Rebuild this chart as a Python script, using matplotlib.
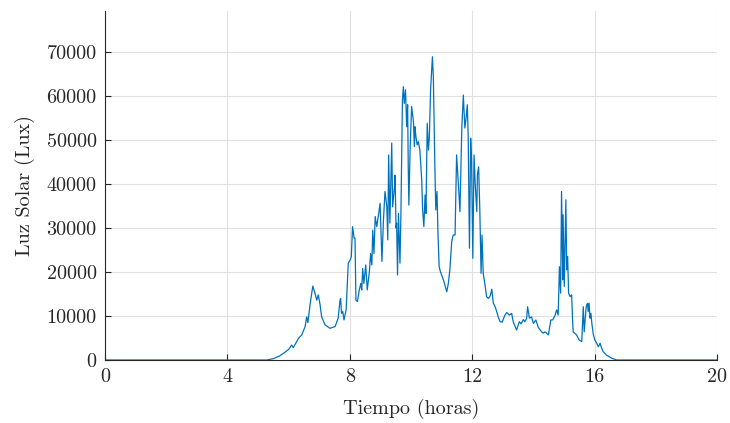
import matplotlib
matplotlib.use("Agg")
import matplotlib.pyplot as plt

# Time (hours) and solar illuminance (lux)
tiempo = [0, 5.29, 5.5, 5.7, 5.83, 6.0, 6.10, 6.15, 6.25, 6.32, 6.43, 6.54, 6.59, 6.63,
          6.70, 6.79, 6.86, 6.92, 6.97, 7.03, 7.08, 7.19, 7.35, 7.52, 7.62, 7.68, 7.70,
          7.73, 7.77, 7.81, 7.88, 7.92, 7.95, 8.01, 8.05, 8.09, 8.14, 8.17, 8.20, 8.25,
          8.31, 8.36, 8.39, 8.42, 8.46, 8.52, 8.57, 8.64, 8.68, 8.72, 8.75, 8.79, 8.83,
          8.88, 8.93, 8.99, 9.05, 9.10, 9.15, 9.21, 9.24, 9.27, 9.31, 9.37, 9.40, 9.46,
          9.48, 9.51, 9.53, 9.56, 9.59, 9.64, 9.67, 9.72, 9.75, 9.78, 9.82, 9.86, 9.89,
          9.91, 9.93, 9.97, 10.02, 10.08, 10.11, 10.13, 10.16, 10.20, 10.24, 10.29, 10.35,
          10.38, 10.42, 10.46, 10.49, 10.53, 10.57, 10.60, 10.64, 10.70, 10.73, 10.78,
          10.81, 10.85, 10.88, 10.92, 10.96, 11.06, 11.17, 11.22, 11.27, 11.33, 11.38,
          11.44, 11.49, 11.55, 11.60, 11.66, 11.71, 11.76, 11.80, 11.84, 11.87, 11.91,
          11.95, 11.98, 12.02, 12.06, 12.10, 12.15, 12.17, 12.21, 12.25, 12.29, 12.32,
          12.36, 12.42, 12.47, 12.53, 12.59, 12.64, 12.69, 12.75, 12.80, 12.85, 12.91,
          12.98, 13.07, 13.13, 13.21, 13.29, 13.34, 13.45, 13.54, 13.60, 13.67, 13.72,
          13.78, 13.81, 13.87, 13.94, 14.00, 14.08, 14.16, 14.27, 14.32, 14.38, 14.49,
          14.57, 14.63, 14.71, 14.76, 14.81, 14.85, 14.89, 14.92, 14.96, 14.97, 15.01,
          15.06, 15.09, 15.12, 15.15, 15.20, 15.25, 15.28, 15.30, 15.41, 15.50, 15.58,
          15.63, 15.66, 15.72, 15.74, 15.77, 15.79, 15.82, 15.85, 15.88, 15.91, 15.96,
          16.01, 16.07, 16.12, 16.18, 16.23, 16.28, 16.39, 16.48, 16.56, 16.67, 16.72, 20]

luz = [0, 0, 300, 900, 1500, 2400, 3400, 2800, 4000, 4900, 5700, 7600, 9800, 8500,
       12500, 16800, 15200, 13600, 14800, 12500, 9800, 8000, 7200, 7600, 9500, 13600, 14000,
       10600, 11000, 9100, 11400, 17400, 22000, 22700, 23500, 30300, 27700, 27700, 13600, 13300,
       15900, 17400, 15900, 20800, 17400, 21600, 15900, 20100, 24200, 21600, 29500, 24200, 32600,
       30300, 32600, 35600, 22400, 31800, 38300, 34800, 27300, 46600, 31100, 49300, 34800, 39400,
       42000, 30000, 31100, 19300, 33300, 22000, 33000, 59100, 62100, 58300, 61400, 53000, 58000,
       43900, 35200, 47700, 57600, 54200, 48500, 53000, 50800, 48900, 49600, 47700, 40900,
       34100, 30300, 37500, 33300, 53800, 47700, 50800, 61400, 68900, 64400, 43900,
       34100, 38300, 29000, 21200, 20100, 18200, 15500, 17400, 20500, 26900, 28400,
       28400, 46600, 39800, 33700, 52700, 60200, 52700, 55000, 58000, 50400, 25400,
       50400, 45100, 23100, 46600, 39800, 33700, 42000, 43900, 33700, 19700, 28400,
       19700, 17000, 14400, 14000, 14600, 16100, 12900, 12100, 11000, 9800, 8700,
       8600, 10200, 10800, 10200, 10600, 8700, 6800, 8700, 8200, 9200, 8700,
       9500, 12100, 9500, 9800, 8300, 9100, 7400, 6400, 6100, 6400, 5700,
       9100, 9100, 10200, 11400, 10200, 21200, 15200, 38300, 18200, 33000, 16700,
       36400, 20500, 23500, 15200, 14400, 14800, 9100, 6400, 5700, 4500, 4200,
       12100, 6400, 11700, 12500, 12900, 11000, 12900, 9500, 10600, 8300, 5700,
       4500, 3800, 3000, 3800, 2700, 1900, 1100, 750, 400, 150, 0, 0]

x_ticks = [0, 4, 8, 12, 16, 20]
y_ticks = [0, 10000, 20000, 30000, 40000, 50000, 60000, 70000]

plt.rcParams['font.family'] = 'serif'
plt.rcParams['font.serif'] = ['cmr10', 'DejaVu Serif']
plt.rcParams['axes.formatter.use_mathtext'] = True

fig = plt.figure(figsize=(7.30, 4.23), dpi=100)
ax = fig.add_axes([105/730, 1-360/423, (717-105)/730, (360-11)/423])

ax.plot(tiempo, luz, color='#0072BD', linewidth=0.9)

ax.set_xlim(0, 20)
ax.set_ylim(0, 79300)
ax.set_xticks(x_ticks)
ax.set_yticks(y_ticks)
ax.set_xticklabels([str(t) for t in x_ticks])
ax.set_yticklabels([str(t) for t in y_ticks])

ax.grid(True, color='#e0e0e0', linewidth=0.8)
ax.set_axisbelow(True)
for s in ['top', 'right']:
    ax.spines[s].set_visible(False)
for s in ['left', 'bottom']:
    ax.spines[s].set_color('#262626')
    ax.spines[s].set_linewidth(0.8)
ax.tick_params(direction='in', length=4, width=0.8, colors='#262626',
               labelsize=14.5, labelcolor='#262626', pad=6)

ax.set_xlabel('Tiempo (horas)', fontsize=14.5, color='#262626', labelpad=9)
ax.set_ylabel('Luz Solar (Lux)', fontsize=14.5, color='#262626', labelpad=8)

fig.savefig('out.png', dpi=100)
